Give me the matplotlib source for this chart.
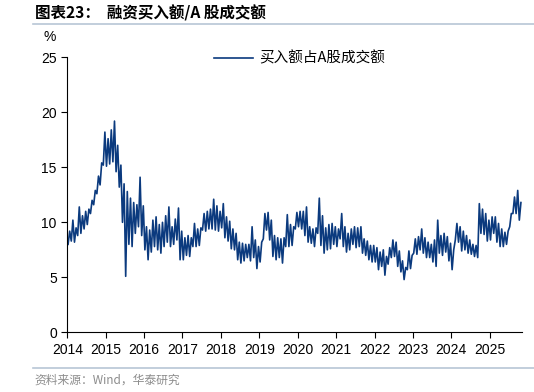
import numpy as np
import matplotlib.pyplot as plt
from matplotlib.lines import Line2D

plt.rcParams['font.family'] = ['Liberation Sans', 'Noto Sans CJK SC', 'DejaVu Sans']

# monthly low / high of the daily ratio (%), Jan 2014 .. Oct 2025
lo = [8.0, 8.3, 8.2, 8.8, 9.0, 9.4, 9.8, 10.8, 11.6, 12.6, 13.4, 15.2,
      15.1, 15.3, 15.5, 14.6, 13.2, 10.0, 5.1, 8.0, 7.8, 9.0, 9.6, 8.8,
      7.5, 6.6, 7.3, 7.8, 7.5, 7.2, 7.8, 8.2, 7.8, 8.0, 8.4, 6.6,
      6.6, 7.0, 6.9, 7.8, 7.8, 7.9, 9.3, 9.2, 9.4, 9.4, 9.3, 9.2,
      9.5, 8.6, 8.3, 7.6, 7.5, 6.6, 6.3, 6.5, 6.8, 6.5, 6.8, 5.8,
      6.4, 8.5, 9.3, 8.4, 6.9, 6.6, 6.8, 6.3, 7.8, 7.8, 7.9, 9.4,
      9.6, 9.4, 8.8, 8.2, 8.1, 7.8, 9.0, 7.9, 7.2, 7.5, 7.6, 8.0,
      7.8, 8.5, 7.8, 7.3, 7.5, 8.0, 7.7, 7.8, 7.2, 7.0, 6.6, 6.4,
      6.4, 5.7, 6.0, 5.2, 6.2, 6.8, 6.9, 6.0, 5.5, 4.8, 5.7, 5.8,
      7.2, 7.1, 7.5, 7.2, 6.8, 6.8, 6.4, 6.0, 7.2, 7.0, 7.3, 6.5,
      5.7, 8.4, 8.2, 7.4, 7.5, 7.2, 7.1, 6.9, 6.8, 9.0, 8.9, 8.3,
      8.4, 9.0, 8.2, 7.8, 7.8, 8.0, 9.6, 10.8, 10.8, 10.2]
hi = [9.2, 10.2, 9.5, 11.4, 10.6, 11.0, 11.2, 12.0, 12.9, 14.2, 15.4, 18.2,
      17.6, 18.4, 19.2, 17.0, 15.2, 13.5, 12.8, 12.2, 11.8, 11.6, 14.1, 11.5,
      9.6, 9.3, 10.2, 10.5, 9.8, 10.0, 10.6, 11.4, 9.6, 10.3, 11.3, 9.2,
      8.6, 8.8, 8.6, 9.9, 9.4, 9.5, 10.8, 11.0, 11.2, 12.1, 11.5, 11.0,
      11.7, 10.5, 10.1, 9.4, 9.0, 8.2, 8.1, 8.0, 8.0, 9.6, 8.4, 7.8,
      8.2, 10.8, 10.9, 10.2, 8.8, 8.6, 8.5, 8.6, 10.7, 9.8, 9.6, 10.9,
      11.0, 11.0, 11.4, 9.6, 9.4, 9.5, 12.2, 10.6, 9.5, 9.8, 9.9, 9.6,
      9.4, 10.8, 9.6, 9.0, 9.4, 9.6, 9.5, 9.6, 8.5, 8.3, 7.9, 7.9,
      7.7, 7.3, 7.5, 6.9, 7.7, 8.4, 8.2, 7.4, 6.5, 5.9, 7.4, 7.0,
      8.5, 8.7, 9.4, 8.6, 8.2, 8.0, 8.4, 10.2, 8.8, 9.0, 8.7, 8.1,
      7.5, 9.9, 9.6, 9.2, 8.8, 8.4, 8.0, 7.9, 11.7, 11.2, 10.8, 10.2,
      10.5, 10.5, 9.9, 9.4, 9.1, 9.2, 10.8, 12.3, 12.9, 11.8]
years = list(range(2014, 2026))

# interleave low/high inside each month
t, v = [], []
for m in range(len(lo)):
    t += [2014 + (m + 0.25) / 12, 2014 + (m + 0.75) / 12]
    v += [lo[m], hi[m]]

fig = plt.figure(figsize=(5.34, 3.92), dpi=100)
ax = fig.add_axes([0.126, 0.152, 0.851, 0.702])
ax.plot(t, v, color='#0b3a7e', lw=1.2, label='买入额占A股成交额')
ax.set_xlim(2014, 2014 + len(lo) / 12)
ax.set_ylim(0, 25)
ax.set_xticks(years)
ax.set_xticklabels([str(y) for y in years])
ax.set_yticks(range(0, 26, 5))
ax.tick_params(direction='out', length=4, width=0.8, labelsize=10, colors='black')
ax.spines['top'].set_visible(False)
ax.spines['right'].set_visible(False)
ax.legend(loc='center left', bbox_to_anchor=(0.322, 0.995), frameon=False,
          borderpad=0, borderaxespad=0, handlelength=2.7, handletextpad=0.4,
          prop={'family': ['Noto Sans CJK SC'], 'size': 10.5})

fig.text(0.082, 0.895, '%', fontsize=10)
fig.text(0.065, 0.966, '图表23：  融资买入额/A 股成交额', fontsize=11.2, fontweight='bold',
         family=['Noto Sans CJK SC'], va='center')
fig.add_artist(Line2D([0.062, 1.0], [0.94, 0.94], color='#b8c6d6', lw=1.2))
fig.add_artist(Line2D([0.062, 1.0], [0.06, 0.06], color='#b8c6d6', lw=1.2))
fig.text(0.065, 0.03, '资料来源：Wind，华泰研究', fontsize=8.5, color='#8c8c8c',
         family=['Noto Sans CJK SC'], va='center')

fig.savefig('out.png', dpi=100)
